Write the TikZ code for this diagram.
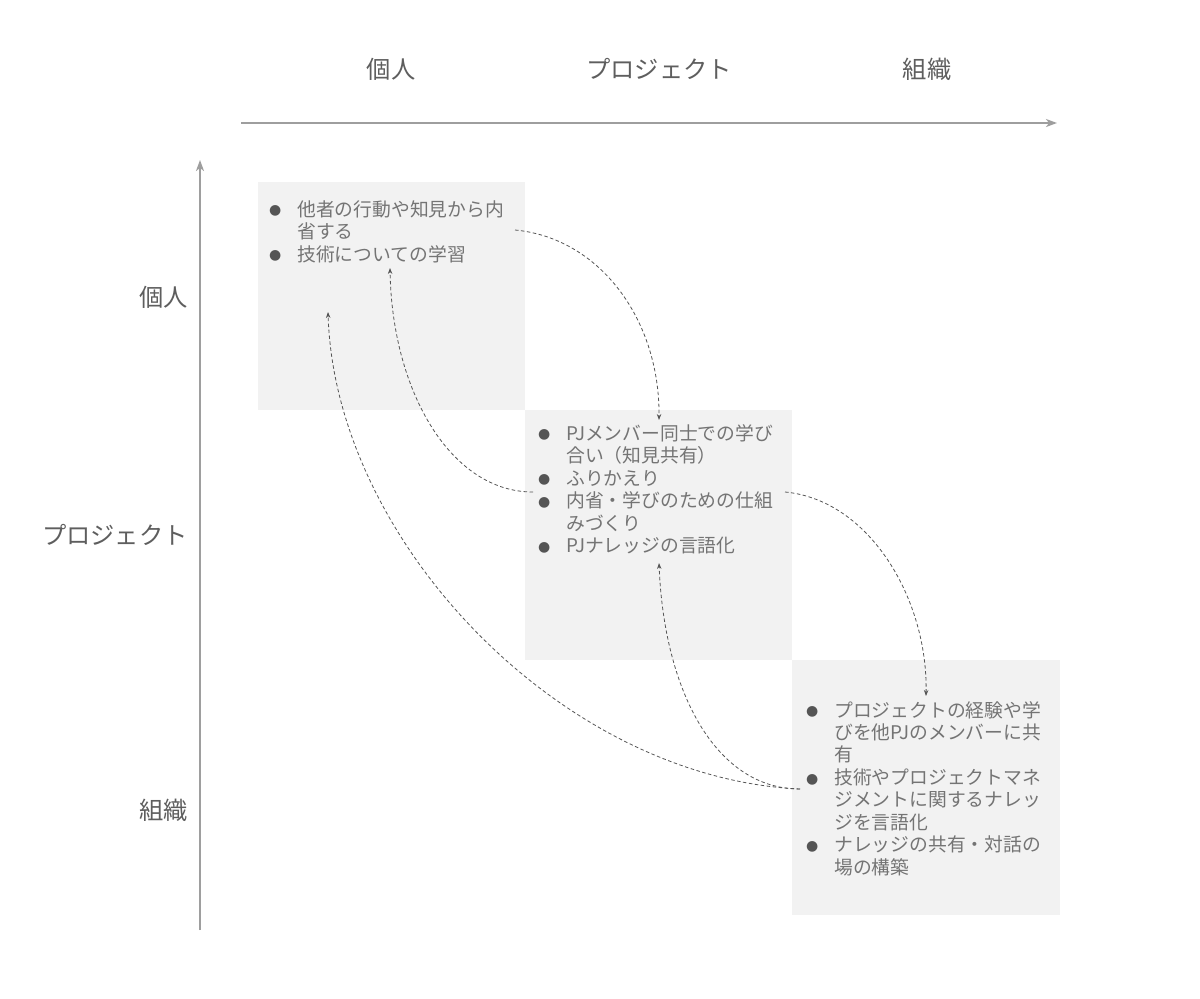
\documentclass[tikz,border=0pt]{standalone}
\usepackage{fontspec}
\setmainfont{Noto Sans CJK JP}
\newfontfamily\symfont{DejaVu Sans}
\usetikzlibrary{arrows.meta}
\definecolor{boxfill}{HTML}{F2F2F2}
\definecolor{txtc}{HTML}{747474}
\definecolor{labc}{HTML}{5E5E5E}
\definecolor{axisc}{HTML}{9E9E9E}
\definecolor{arrc}{HTML}{555555}
\newcommand\bul{\makebox[27pt][l]{\makebox[10pt][c]{\raisebox{1.5pt}{\color{arrc}\symfont\fontsize{14}{14}\selectfont ●}}}}
\tikzset{
  cell/.style={fill=boxfill, draw=none, anchor=north west, inner sep=0pt},
  items/.style={anchor=base west, inner sep=0pt, text=txtc, font=\fontsize{18.8}{22.4}\selectfont},
  lab/.style={text=labc, inner sep=0pt, font=\fontsize{24.3}{28}\selectfont},
  axisline/.style={draw=axisc, line width=1.6pt, -{Stealth[length=11pt,width=8pt,inset=3pt]}},
  flow/.style={draw=arrc, line width=0.8pt, dash pattern=on 3.5pt off 2.5pt, -{Stealth[length=6pt,width=4.5pt]}}
}
\begin{document}
\begin{tikzpicture}[x=1pt,y=-1pt]
\useasboundingbox (0,0) rectangle (1200,999);
% boxes
\node[cell, minimum width=267pt, minimum height=228pt] (b1) at (258,182) {};
\node[cell, minimum width=267pt, minimum height=250pt] (b2) at (525,410) {};
\node[cell, minimum width=268pt, minimum height=255pt] (b3) at (792,660) {};
% axes
\coordinate (hx0) at (241,123);
\coordinate (hx1) at (1057,123);
\coordinate (vy0) at (200,930);
\coordinate (vy1) at (200,160);
\draw[axisline] (hx0) -- (hx1);
\draw[axisline] (vy0) -- (vy1);
% column labels
\node[lab] (c1) at (391,69) {個人};
\node[lab] (c2) at (659,69) {プロジェクト};
\node[lab] (c3) at (927,69) {組織};
% row labels
\node[lab, anchor=east] (r1) at (188,297) {個人};
\node[lab, anchor=east] (r2) at (188,535) {プロジェクト};
\node[lab, anchor=east] (r3) at (188,810) {組織};
% texts
\node[items] (t1) at (270,216) {\begin{tabular}[t]{@{}l@{}l@{}}
\bul & 他者の行動や知見から内\\
 & 省する\\
\bul & 技術についての学習
\end{tabular}};
\node[items] (t2) at (539,440) {\begin{tabular}[t]{@{}l@{}l@{}}
\bul & PJメンバー同士での学び\\
 & 合い（知見共有）\\
\bul & ふりかえり\\
\bul & 内省・学びのための仕組\\
 & みづくり\\
\bul & PJナレッジの言語化
\end{tabular}};
\node[items] (t3) at (807,717) {\begin{tabular}[t]{@{}l@{}l@{}}
\bul & プロジェクトの経験や学\\
 & びを他PJのメンバーに共\\
 & 有\\
\bul & 技術やプロジェクトマネ\\
 & ジメントに関するナレッ\\
 & ジを言語化\\
\bul & ナレッジの共有・対話の\\
 & 場の構築
\end{tabular}};
% connector end points
\coordinate (p1s) at (515,230);
\coordinate (p1e) at (659,420);
\coordinate (p2s) at (785,492);
\coordinate (p2e) at (926,696);
\coordinate (p3s) at (533,492);
\coordinate (p3e) at (390,268);
\coordinate (p4s) at (800,789);
\coordinate (p4e) at (659,563);
\coordinate (p5e) at (328,312);
% connectors
\draw[flow] (p1s) .. controls (600,238) and (660,320) .. (p1e);
\draw[flow] (p2s) .. controls (870,500) and (928,600) .. (p2e);
\draw[flow] (p3s) .. controls (450,492) and (392,390) .. (p3e);
\draw[flow] (p4s) .. controls (715,789) and (664,690) .. (p4e);
\draw[flow] (p4s) .. controls (560,778) and (335,540) .. (p5e);
\end{tikzpicture}
\end{document}
